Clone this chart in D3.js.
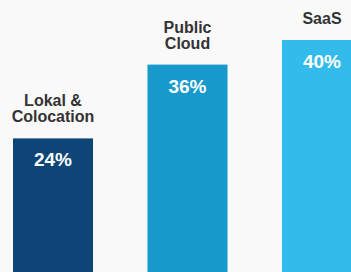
<!DOCTYPE html>
<html>
<head>
<meta charset="utf-8">
<script src="https://cdn.jsdelivr.net/npm/d3@7"></script>
<style>
  html, body { margin: 0; padding: 0; background: #f9f9f9; }
  svg { display: block; }
</style>
</head>
<body>
<svg id="chart" width="351" height="272"></svg>
<script>
// data
var categories = ["Lokal & Colocation", "Public Cloud", "SaaS"];
var labelLines = [["Lokal &", "Colocation"], ["Public", "Cloud"], ["SaaS"]];
var values = [24, 36, 40];
var colors = ["#0d4577", "#1799cc", "#33bbec"];

var svg = d3.select("#chart");

var x = d3.scaleBand()
    .domain(categories)
    .range([13, 362])
    .paddingInner(0.405)
    .paddingOuter(0);

var y = d3.scaleLinear()
    .domain([0, 40])
    .range([286, 40]);

var g = svg.selectAll(".bar")
    .data(categories)
    .enter().append("g")
    .attr("class", "bar");

g.append("rect")
    .attr("x", function(d) { return x(d); })
    .attr("y", function(d, i) { return y(values[i]); })
    .attr("width", x.bandwidth())
    .attr("height", function(d, i) { return y(0) - y(values[i]); })
    .attr("fill", function(d, i) { return colors[i]; });

// value inside the bar
g.append("text")
    .attr("x", function(d) { return x(d) + x.bandwidth() / 2; })
    .attr("y", function(d, i) { return y(values[i]) + 28; })
    .attr("text-anchor", "middle")
    .attr("fill", "#ffffff")
    .style("font", "bold 19px 'Liberation Sans', Arial, sans-serif")
    .text(function(d, i) { return values[i] + "%"; });

// category label above the bar
g.each(function(d, i) {
    var lines = labelLines[i];
    var cx = x(d) + x.bandwidth() / 2;
    var base = y(values[i]) - 16;
    d3.select(this).selectAll(".cat")
        .data(lines)
        .enter().append("text")
        .attr("class", "cat")
        .attr("x", cx)
        .attr("y", function(l, j) { return base - (lines.length - 1 - j) * 16; })
        .attr("text-anchor", "middle")
        .attr("fill", "#333333")
        .style("font", "bold 16px 'Liberation Sans', Arial, sans-serif")
        .text(function(l) { return l; });
});
</script>
</body>
</html>
